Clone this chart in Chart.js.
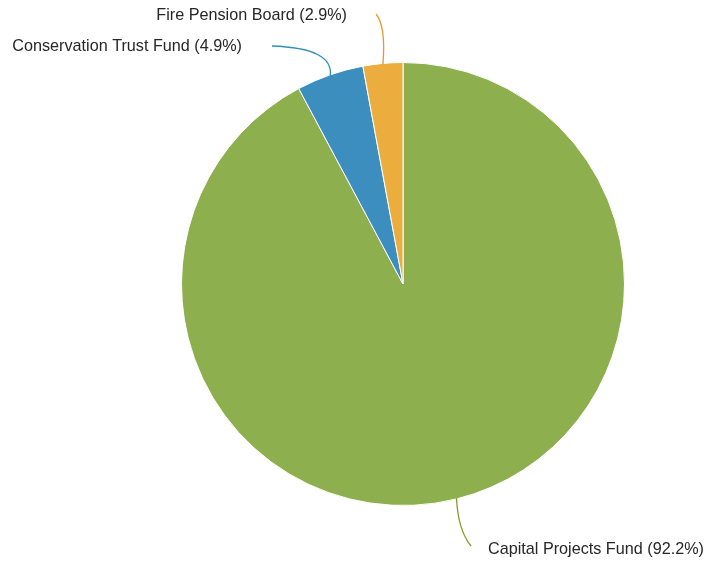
<!DOCTYPE html>
<html>
<head>
<meta charset="utf-8">
<script src="https://cdn.jsdelivr.net/npm/chart.js@4/dist/chart.umd.min.js"></script>
<style>
  html, body { margin: 0; padding: 0; background: #fff; }
  #wrap { width: 706px; height: 565px; position: relative; }
</style>
</head>
<body>
<div id="wrap"><canvas id="pieChart" width="706" height="565"></canvas></div>
<script>
const funds = ['Capital Projects Fund', 'Conservation Trust Fund', 'Fire Pension Board'];
const shares = [92.2, 4.9, 2.9];
const sliceColors = ['#8daf4e', '#3c8ebf', '#ebae3e'];
const lineColors = ['#8a9a2a', '#2f8fb8', '#e39a2a'];

// where each callout text sits and how its leader line bends
const callouts = [
    { tx: 488, ty: 550, align: 'left', end: [471, 546], ctrl: [458, 530] },
    { tx: 242, ty: 47, align: 'right', end: [272, 46], ctrl: [334, 48] },
    { tx: 347, ty: 16, align: 'right', end: [376, 14], ctrl: [386, 26] }
];

const calloutPlugin = {
    id: 'callouts',
    afterDatasetsDraw(chart) {
        const ctx = chart.ctx;
        const arcs = chart.getDatasetMeta(0).data;
        ctx.save();
        arcs.forEach((arc, i) => {
            const c = callouts[i];
            const mid = (arc.startAngle + arc.endAngle) / 2;
            const sx = arc.x + Math.cos(mid) * (arc.outerRadius - 1);
            const sy = arc.y + Math.sin(mid) * (arc.outerRadius - 1);
            ctx.strokeStyle = lineColors[i];
            ctx.lineWidth = 1.3;
            ctx.beginPath();
            ctx.moveTo(sx, sy);
            ctx.quadraticCurveTo(c.ctrl[0], c.ctrl[1], c.end[0], c.end[1]);
            ctx.stroke();

            ctx.fillStyle = '#262626';
            ctx.font = '16.2px "Liberation Sans", Arial, sans-serif';
            ctx.textAlign = c.align;
            ctx.textBaseline = 'middle';
            ctx.fillText(funds[i] + ' (' + shares[i].toFixed(1) + '%)', c.tx, c.ty);
        });
        ctx.restore();
    }
};

new Chart(document.getElementById('pieChart'), {
    type: 'pie',
    data: {
        labels: funds,
        datasets: [{
            data: shares,
            backgroundColor: sliceColors,
            borderColor: '#ffffff',
            borderWidth: 1
        }]
    },
    options: {
        responsive: false,
        animation: false,
        layout: { padding: { top: 62, bottom: 59, left: 181, right: 81 } },
        plugins: {
            legend: { display: false },
            tooltip: { enabled: false }
        }
    },
    plugins: [calloutPlugin]
});
</script>
</body>
</html>
